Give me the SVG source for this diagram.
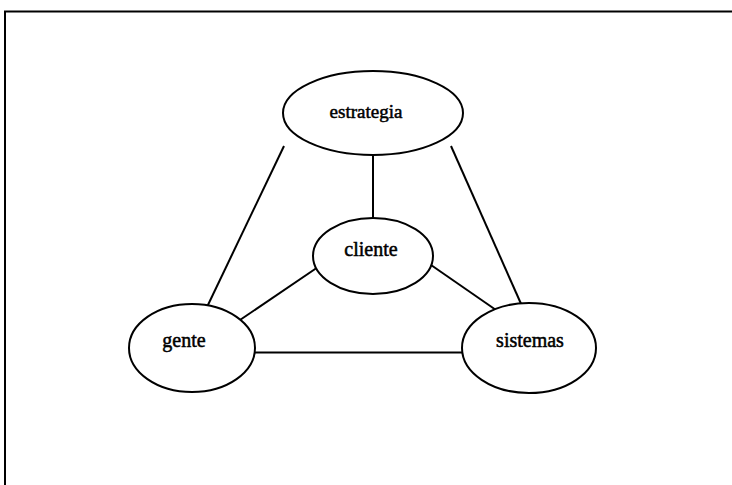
<svg xmlns="http://www.w3.org/2000/svg" width="732" height="485" viewBox="0 0 732 485">
  <style>
    .frame { fill: none; stroke: #000; stroke-width: 2; }
    .node ellipse { fill: #fff; stroke: #000; stroke-width: 2; }
    .node text { font-family: "Liberation Serif", "Times New Roman", serif; font-size: 20px; fill: #000; text-anchor: middle; stroke: #000; stroke-width: 0.5; }
    .links line { stroke: #000; stroke-width: 2; }
  </style>
  <rect width="732" height="485" fill="#fff"/>
  <!-- page frame running off the right and bottom edges -->
  <path class="frame" d="M5,485 V11.5 H732"/>

  <g class="links">
    <line x1="373" y1="155" x2="373" y2="218"/>
    <line x1="284" y1="146" x2="207" y2="307"/>
    <line x1="451" y1="146" x2="522" y2="306"/>
    <line x1="321" y1="265" x2="237" y2="322"/>
    <line x1="431" y1="265" x2="496" y2="310"/>
    <line x1="254" y1="352.5" x2="463" y2="352.5"/>
  </g>

  <g class="node" id="estrategia">
    <ellipse cx="373" cy="113" rx="90" ry="42"/>
    <text x="366" y="118" style="font-size:19px">estrategia</text>
  </g>
  <g class="node" id="cliente">
    <ellipse cx="373" cy="256" rx="60" ry="38"/>
    <text x="371" y="256">cliente</text>
  </g>
  <g class="node" id="gente">
    <ellipse cx="192" cy="348" rx="63" ry="44"/>
    <text x="184" y="347">gente</text>
  </g>
  <g class="node" id="sistemas">
    <ellipse cx="529" cy="348" rx="67" ry="45"/>
    <text x="530" y="347">sistemas</text>
  </g>
</svg>
